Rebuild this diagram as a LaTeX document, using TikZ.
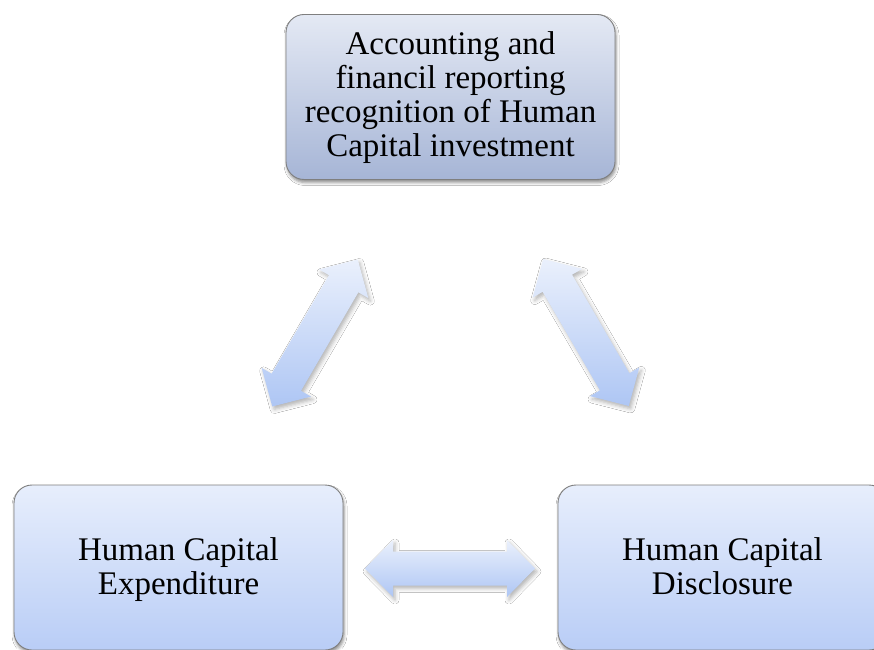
\documentclass[tikz,border=0pt]{standalone}
\usepackage{fontspec}
\setmainfont{Liberation Serif}
\usetikzlibrary{calc,shadows,shadows.blur}
\definecolor{boxtopA}{HTML}{E4E9F4}
\definecolor{boxbotA}{HTML}{A6B5D6}
\definecolor{boxtopB}{HTML}{E7EEFC}
\definecolor{boxbotB}{HTML}{B9CDF6}
\definecolor{arrtop}{HTML}{EAF0FC}
\definecolor{arrbot}{HTML}{AEC6F4}
\definecolor{edgegray}{HTML}{7F7F7F}
\newcommand\firstln[1]{\rule{0pt}{#1}}
\newcommand\lastln{\rule[-10.2pt]{0pt}{0pt}}
\tikzset{
  box/.style={draw=edgegray, line width=0.9pt, rounded corners=18pt,
    minimum width=329pt, minimum height=165pt, align=center,
    font=\fontsize{33}{34}\selectfont, inner sep=0pt,
    blur shadow={shadow xshift=1pt, shadow yshift=-3pt, shadow blur radius=3pt, shadow opacity=45}},
  boxtop/.style={box, top color=boxtopA, bottom color=boxbotA},
  boxbottom/.style={box, top color=boxtopB, bottom color=boxbotB},
  dblarrow/.style={top color=arrtop, bottom color=arrbot, draw=none,
    blur shadow={shadow xshift=2pt, shadow yshift=-3pt, shadow blur radius=4pt, shadow opacity=30}}
}
\newcommand\mkdblarrow[4]{%
  \coordinate (#4) at (#1,#2);
  \shade[dblarrow]
    ($(#4)+(#3:85)$)
    -- ($(#4)+(#3:57)+(#3+90:28.5)$)
    -- ($(#4)+(#3:57)+(#3+90:17)$)
    -- ($(#4)+(#3:-57)+(#3+90:17)$)
    -- ($(#4)+(#3:-57)+(#3+90:28.5)$)
    -- ($(#4)+(#3:-85)$)
    -- ($(#4)+(#3:-57)+(#3+90:-28.5)$)
    -- ($(#4)+(#3:-57)+(#3+90:-17)$)
    -- ($(#4)+(#3:57)+(#3+90:-17)$)
    -- ($(#4)+(#3:57)+(#3+90:-28.5)$)
    -- cycle;
}
\begin{document}
\begin{tikzpicture}[x=1pt,y=1pt]
\useasboundingbox (0,0) rectangle (874,649);
\clip (0,0) rectangle (874,649);
\fill[white] (0,0) rectangle (874,649);
\node[boxtop] (acc) at (450.5,552) {\firstln{28.2pt}Accounting and\\financil reporting\\recognition of Human\\Capital investment\lastln};
\node[boxbottom] (exp) at (178.5,81.5) {\firstln{29.2pt}Human Capital\\Expenditure\lastln};
\node[boxbottom] (dis) at (722.5,81.5) {\firstln{29.2pt}Human Capital\\Disclosure\lastln};
\mkdblarrow{315}{316}{59.8}{ae}
\mkdblarrow{586}{316.5}{-59.8}{ad}
\mkdblarrow{450}{80.5}{0}{ed}
\end{tikzpicture}
\end{document}
